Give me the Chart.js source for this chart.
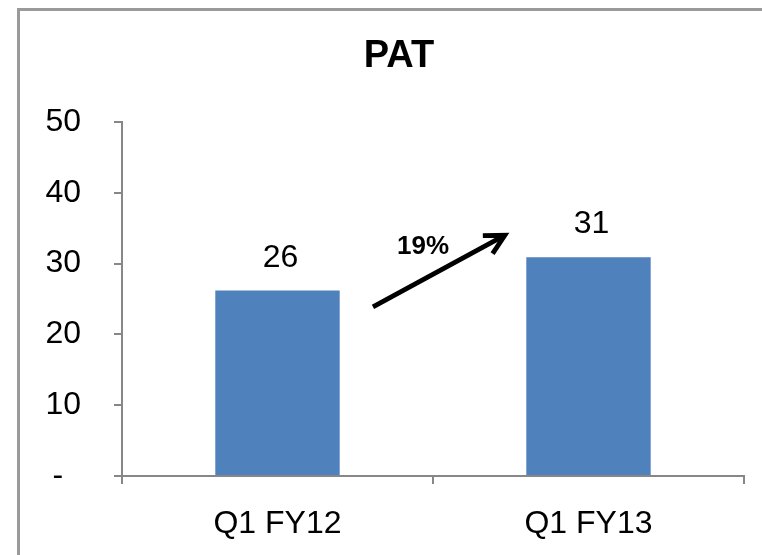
<!DOCTYPE html>
<html>
<head>
<meta charset="utf-8">
<script src="https://cdn.jsdelivr.net/npm/chart.js@4/dist/chart.umd.min.js"></script>
<style>
  html, body { margin: 0; padding: 0; background: #fff; overflow: hidden; }
  #wrap { position: relative; width: 762px; height: 555px; }
  canvas { display: block; }
</style>
</head>
<body>
<div id="wrap"><canvas id="c" width="762" height="555"></canvas></div>
<script>
// ---- data ----
const chartTitle = "PAT";
const categories = ["Q1 FY12", "Q1 FY13"];
const patValues = [26.2, 30.9];
const valueLabels = ["26", "31"];
const yTickLabels = { 0: "-  ", 10: "10", 20: "20", 30: "30", 40: "40", 50: "50" };
const growthLabel = "19%";
// arrow annotation in data units: [category index, value]
const arrowFrom = [0.307, 23.9];
const arrowTo = [0.731, 34.0];
const growthLabelAt = [0.468, 32.4];

const FONT = "'Liberation Sans', Arial, sans-serif";
const AXIS = "#878787";

const framePlugin = {
  id: 'frame',
  beforeDraw(chart) {
    const ctx = chart.ctx;
    ctx.save();
    ctx.strokeStyle = "#9a9a9a";
    ctx.lineWidth = 3;
    ctx.strokeRect(18.5, 9.5, 900, 700);
    // title, centred in the frame
    ctx.fillStyle = "#000";
    ctx.font = "bold 38px " + FONT;
    ctx.textAlign = "center";
    ctx.textBaseline = "middle";
    ctx.fillText(chartTitle, 399, 57);
    ctx.restore();
  }
};

const annotPlugin = {
  id: 'annot',
  afterDatasetsDraw(chart) {
    const ctx = chart.ctx;
    const xs = chart.scales.x, ys = chart.scales.y;
    const meta = chart.getDatasetMeta(0);
    ctx.save();
    // value labels
    ctx.fillStyle = "#000";
    ctx.font = "32px " + FONT;
    ctx.textAlign = "center";
    ctx.textBaseline = "alphabetic";
    meta.data.forEach((bar, i) => {
      ctx.fillText(valueLabels[i], bar.x + 3, bar.y - 24);
    });
    // arrow
    const px = (v) => {
      const a = xs.getPixelForValue(0), b = xs.getPixelForValue(1);
      return a + (b - a) * v;
    };
    const x1 = px(arrowFrom[0]), y1 = ys.getPixelForValue(arrowFrom[1]);
    const x2 = px(arrowTo[0]), y2 = ys.getPixelForValue(arrowTo[1]);
    ctx.strokeStyle = "#000";
    ctx.lineWidth = 4.8;
    ctx.lineCap = "butt";
    ctx.beginPath();
    ctx.moveTo(x1, y1);
    ctx.lineTo(x2 - 3, y2 + 1.6);
    ctx.stroke();
    const ang = Math.atan2(y2 - y1, x2 - x1);
    const L = 22, spread = Math.PI / 6.5;
    ctx.lineJoin = "miter";
    ctx.beginPath();
    ctx.moveTo(x2 - L * Math.cos(ang - spread), y2 - L * Math.sin(ang - spread));
    ctx.lineTo(x2, y2);
    ctx.lineTo(x2 - L * Math.cos(ang + spread), y2 - L * Math.sin(ang + spread));
    ctx.stroke();
    // growth label
    ctx.font = "bold 26px " + FONT;
    ctx.textBaseline = "middle";
    ctx.fillText(growthLabel, px(growthLabelAt[0]), ys.getPixelForValue(growthLabelAt[1]));
    ctx.restore();
  }
};

new Chart(document.getElementById('c'), {
  type: 'bar',
  data: {
    labels: categories,
    datasets: [{
      data: patValues,
      backgroundColor: "#4F81BD",
      borderWidth: 0,
      categoryPercentage: 1.0,
      barPercentage: 0.4
    }]
  },
  options: {
    responsive: false,
    animation: false,
    devicePixelRatio: 1,
    layout: { padding: { left: 0, right: 18, top: 122, bottom: 0 } },
    plugins: {
      legend: { display: false },
      tooltip: { enabled: false },
      title: { display: false }
    },
    scales: {
      x: {
        grid: { display: true, drawOnChartArea: false, drawTicks: true, tickLength: 8, color: AXIS, lineWidth: 2, offset: true },
        border: { display: true, color: AXIS, width: 2 },
        ticks: { color: "#000", font: { family: FONT, size: 32, lineHeight: 1.2 }, padding: 21, maxRotation: 0 },
        afterFit(s) { s.height = 79; }
      },
      y: {
        min: 0, max: 50,
        grid: { display: true, drawOnChartArea: false, drawTicks: true, tickLength: 8, color: AXIS, lineWidth: 2 },
        border: { display: true, color: AXIS, width: 2 },
        ticks: {
          stepSize: 10,
          color: "#000",
          font: { family: FONT, size: 32, lineHeight: 1.2 },
          padding: 33,
          callback: (v) => yTickLabels[v] !== undefined ? yTickLabels[v] : String(v)
        },
        afterFit(s) { s.width = 122; }
      }
    }
  },
  plugins: [framePlugin, annotPlugin]
});
</script>
</body>
</html>
